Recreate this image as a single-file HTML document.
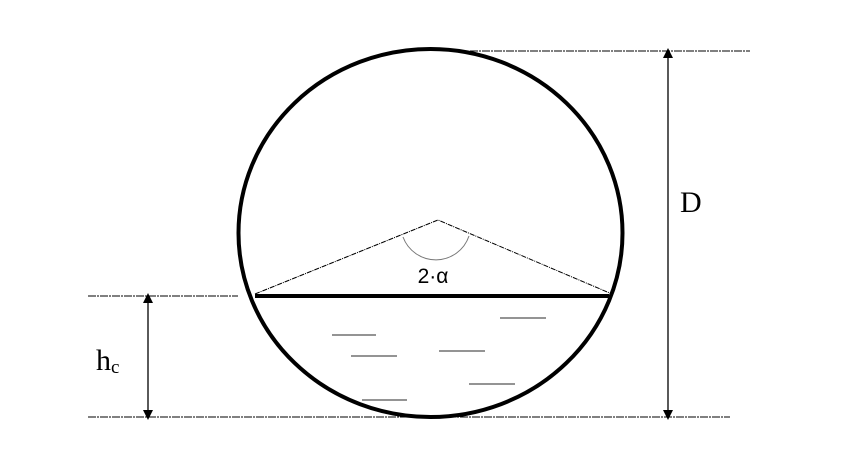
<!DOCTYPE html>
<html><head><meta charset="utf-8"><style>
html,body{margin:0;padding:0;background:#fff;width:850px;height:466px;overflow:hidden}
</style></head><body>
<svg width="850" height="466" viewBox="0 0 850 466" xmlns="http://www.w3.org/2000/svg">
<defs>
<marker id="ar" markerWidth="10" markerHeight="10" refX="5" refY="5" orient="auto-start-reverse" markerUnits="userSpaceOnUse">
<path d="M0,0 L10,5 L0,10 z" fill="#000"/></marker>
</defs>
<line x1="470" y1="51" x2="750" y2="51" stroke="#000" stroke-width="1" stroke-dasharray="8,1,2,1"/>
<line x1="88" y1="417" x2="730" y2="417" stroke="#000" stroke-width="1" stroke-dasharray="8,1,2,1"/>
<line x1="88" y1="296" x2="238" y2="296" stroke="#000" stroke-width="1" stroke-dasharray="8,1,2,1"/>
<ellipse cx="430.5" cy="233" rx="192" ry="184" fill="none" stroke="#000" stroke-width="4"/>
<polyline points="255,294 438,220 612,294" fill="none" stroke="#000" stroke-width="1" stroke-dasharray="5,1,1,1"/>
<path d="M403,237 A35,35 0 0 0 469,236" fill="none" stroke="#777" stroke-width="1"/>
<text x="433" y="283" font-family="'Liberation Sans',sans-serif" font-size="21" text-anchor="middle" fill="#000">2·α</text>
<line x1="255" y1="296" x2="609" y2="296" stroke="#000" stroke-width="4"/>
<g stroke="#555" stroke-width="1.3">
<line x1="332" y1="335" x2="376" y2="335"/>
<line x1="351" y1="356" x2="397" y2="356"/>
<line x1="500" y1="318" x2="546" y2="318"/>
<line x1="439" y1="351" x2="485" y2="351"/>
<line x1="469" y1="384" x2="515" y2="384"/>
<line x1="362" y1="400" x2="407" y2="400"/>
</g>
<line x1="668" y1="53" x2="668" y2="415" stroke="#000" stroke-width="1.3" marker-start="url(#ar)" marker-end="url(#ar)"/>
<text x="680" y="212" font-family="'Liberation Serif',serif" font-size="30" fill="#000">D</text>
<line x1="148" y1="298" x2="148" y2="415" stroke="#000" stroke-width="1.3" marker-start="url(#ar)" marker-end="url(#ar)"/>
<text x="96" y="370" font-family="'Liberation Serif',serif" font-size="30" fill="#000">h<tspan font-size="19" dy="3">c</tspan></text>
</svg>
</body></html>
